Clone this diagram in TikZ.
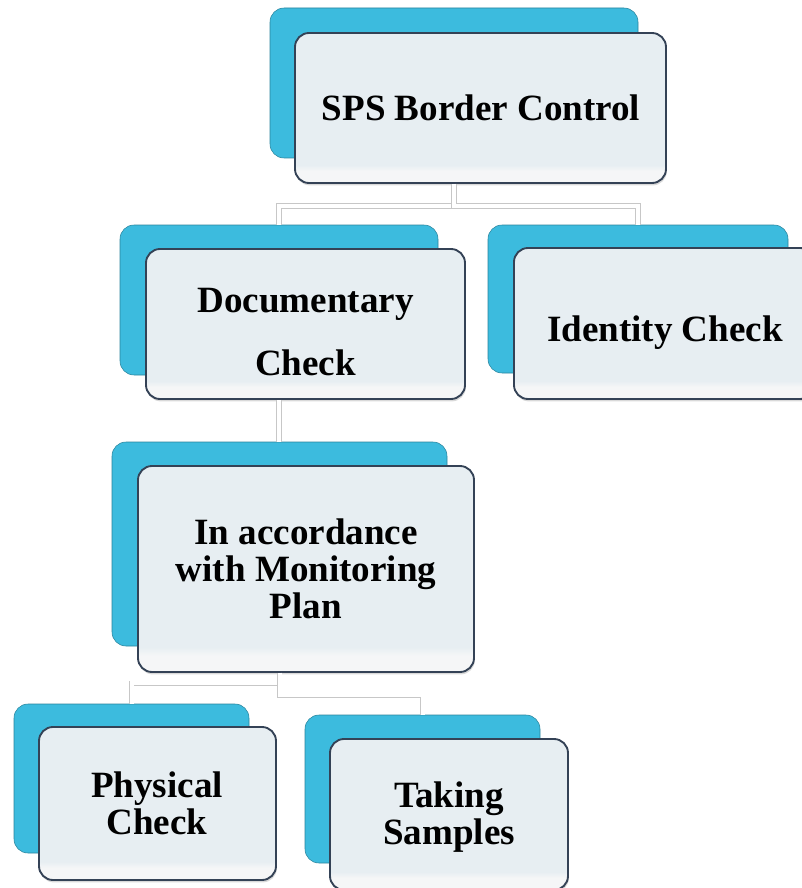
\documentclass[tikz,border=0pt]{standalone}
\usepackage{fontspec}
\setmainfont{Liberation Serif}
\usetikzlibrary{calc}
\usetikzlibrary{positioning}
\usetikzlibrary{shadows}
\definecolor{backblue}{RGB}{60,187,222}
\definecolor{frontgray}{RGB}{231,238,242}
\definecolor{frontlight}{RGB}{245,246,247}
\definecolor{framedark}{RGB}{52,66,86}
\pgfdeclareverticalshading{frontshade}{100bp}{%
    color(0bp)=(frontlight); color(29bp)=(frontlight);
    color(31bp)=(frontgray); color(100bp)=(frontgray)}
\tikzset{
    backbox/.style 2 args={
        rectangle,              % 背面的蓝色框
        rounded corners=10.5pt,
        fill=backblue,
        draw=backblue!70!black, line width=0.4pt,
        minimum width=#1*0.75pt,
        minimum height=#2*0.75pt,
        inner sep=0pt
    },
    frontbox/.style 2 args={
        rectangle,              % 前面的灰色框
        rounded corners=10.5pt,
        shading=frontshade,
        draw=framedark, line width=1.4pt,
        drop shadow={shadow xshift=0.6pt, shadow yshift=-1.8pt, opacity=0.3},
        minimum width=#1*0.75pt,
        minimum height=#2*0.75pt,
        inner sep=0pt
    },
    boxtext/.style={
        align=center,           % 框内文字
        inner sep=0pt,
        font=\bfseries\fontsize{27.8}{27.8}\selectfont
    },
    link/.style={
        draw=black!22,          % 连线: 浅灰双线
        double=white,
        double distance=3pt,
        line width=0.7pt
    }
}

\begin{document}
\begin{tikzpicture}[x=0.75pt, y=-0.75pt]

\useasboundingbox (0,0) rectangle (802,888);
\clip (0,0) rectangle (802,888);

% 蓝色框
\node[backbox={368}{150}] (B1) at (454,83) {};
\node[backbox={318}{150}] (B2) at (279,300) {};
\node[backbox={300}{148}] (B3) at (638,299) {};
\node[backbox={335}{204}] (B4) at (279.5,544) {};
\node[backbox={235}{149}] (B5) at (131.5,778.5) {};
\node[backbox={235}{148}] (B6) at (422.5,789) {};

% 灰色框
\node[frontbox={371}{150}] (F1) at (480.5,108) {};
\node[frontbox={319}{150}] (F2) at (305.5,324) {};
\node[frontbox={300}{151}] (F3) at (664,323.5) {};
\node[frontbox={336}{206}] (F4) at (306,569) {};
\node[frontbox={237}{153}] (F5) at (157.5,803.5) {};
\node[frontbox={238}{151}] (F6) at (449,814.5) {};

% 文字
\node[boxtext] (T1) at (481,108) {SPS Border Control};
\node[boxtext] (T2) at (305.5,332) {Documentary\\[19.5pt]Check};
\node[boxtext] (T3) at (665,333) {Identity Check};
\node[boxtext] (T4) at (306,569) {In accordance\\with Monitoring\\Plan};
\node[boxtext] (T5) at (157,803.5) {Physical\\Check};
\node[boxtext] (T6) at (449,817.5) {Taking\\Samples};

% 连线
\draw[link] (B1.south |- F1.south) -- ++(0,22) -| (B2.north);
\draw[link] (B1.south |- F1.south) -- ++(0,22) -| (B3.north);
\draw[link] (B2.south |- F2.south) -- (B2.south |- B4.north);
\draw[link] (B4.south |- F4.south) -- ++(0,10.5) -| (B5.north);
\draw[link] (B4.south |- F4.south) -- ++(0,22.5) -| (B6.north);

\end{tikzpicture}
\end{document}
